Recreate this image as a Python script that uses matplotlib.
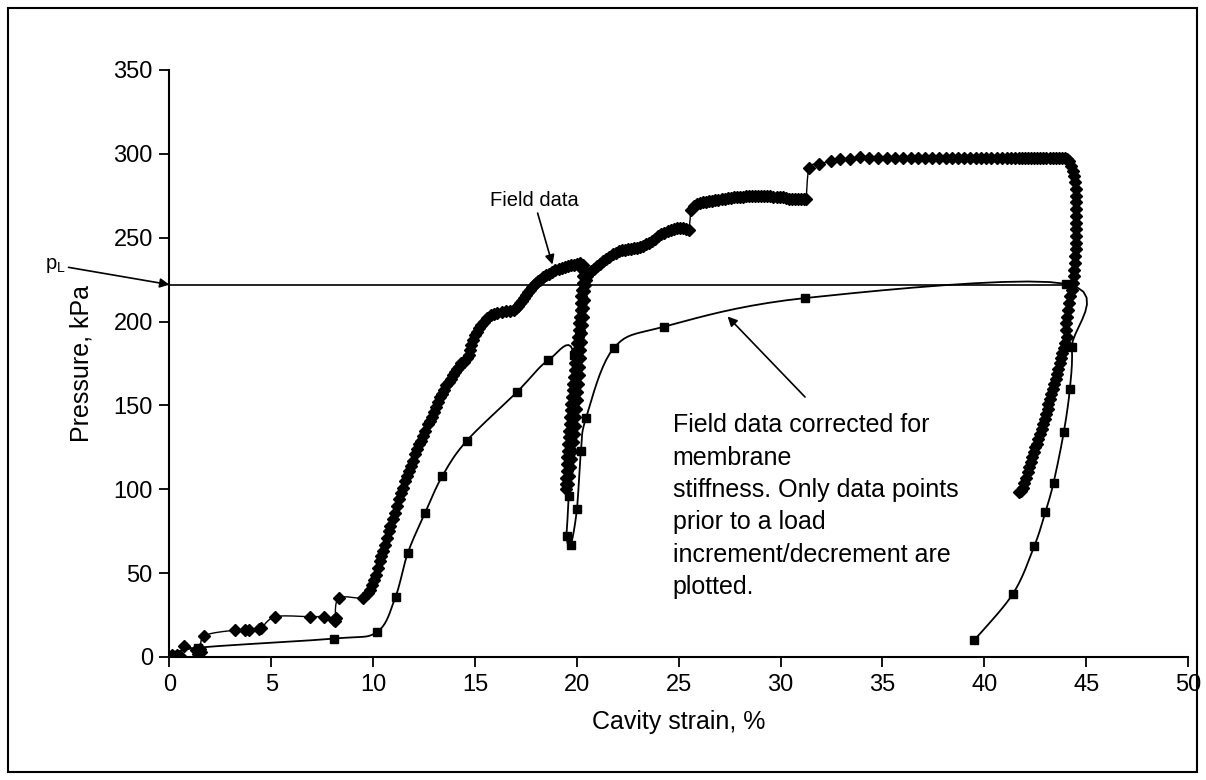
import matplotlib
matplotlib.use("Agg")
import matplotlib.pyplot as plt
from matplotlib.patches import Rectangle
import numpy as np

plt.rcParams['font.family'] = ['Liberation Sans', 'DejaVu Sans']

# field data (diamonds)
start_x = [0.0, 0.15, 0.35, 0.5, 0.72, 1.3, 1.4, 1.5, 1.55, 1.7, 3.2, 3.7, 3.9, 4.4, 4.5, 5.2, 6.9, 7.6,
           8.1, 8.2, 8.15, 8.3, 9.5]
start_y = [0, 1, 1, 0.5, 6.5, 4, 2, 5, 3, 12.5, 16, 16, 16, 16.5, 17, 24, 24, 24,
           22, 23, 21.5, 35, 35]
rise_x = [9.75, 9.85, 9.95, 10.05, 10.15, 10.25, 10.35, 10.4, 10.5, 10.6, 10.7, 10.8, 10.85, 10.95, 11.05,
          11.15, 11.25, 11.35, 11.45, 11.55, 11.65, 11.75, 11.85, 11.95, 12.05, 12.15, 12.25, 12.35, 12.45,
          12.55, 12.7, 12.8, 12.9, 13.0, 13.1, 13.2, 13.3, 13.4, 13.5, 13.6, 13.7, 13.8, 13.9, 14.0, 14.1,
          14.2, 14.3, 14.45, 14.6, 14.7, 14.75, 14.8, 14.9, 15.0, 15.1, 15.2, 15.3, 15.45, 15.6, 15.8, 15.95,
          16.1, 16.3, 16.5, 16.7, 16.9, 17.0, 17.1, 17.2, 17.3, 17.4, 17.5, 17.6, 17.7, 17.8, 17.9, 18.0,
          18.1, 18.2, 18.35, 18.5, 18.65, 18.8, 18.95, 19.1, 19.25, 19.4, 19.55, 19.7, 19.85, 20.0, 20.15, 20.3]
rise_y = [38, 40, 43, 46, 49, 53, 57, 60, 63, 67, 71, 75, 78, 82, 86,
          90, 94, 98, 101, 105, 108, 111, 114, 117, 121, 124, 127, 129, 132,
          135, 139, 141, 143, 146, 149, 152, 155, 157, 159, 162, 164, 166, 168, 170, 172,
          173, 175, 176, 178, 180, 183, 186, 189, 192, 194, 196, 198, 200, 202, 204, 204.5,
          205, 205.5, 206, 206.5, 207, 208, 209.5, 211, 212.5, 214, 216, 217.5, 219, 220.5, 222, 223,
          224, 225, 226.5, 227.5, 228.5, 229.5, 230.5, 231.5, 232, 232.5, 233, 233.5, 234, 234.5, 235, 234]
down_x = [20.32, 20.3, 20.28, 20.25, 20.22, 20.2, 20.18, 20.15, 20.12, 20.1, 20.07, 20.03, 20.0, 19.97,
          19.93, 19.9, 19.87, 19.83, 19.8, 19.77, 19.73, 19.7, 19.67, 19.65, 19.62, 19.6, 19.58, 19.55,
          19.53, 19.5, 19.5, 19.47, 19.45, 19.45]
down_y = [231, 227, 223, 219, 215, 211, 207, 203, 199, 195, 191, 187, 183, 179,
          175, 171, 167, 163, 159, 155, 151, 147, 143, 139, 135, 131, 127, 123,
          119, 115, 111, 107, 103, 100]
up_x = [19.55, 19.62, 19.68, 19.72, 19.77, 19.82, 19.87, 19.9, 19.93, 19.97, 20.0, 20.03, 20.05, 20.08,
        20.1, 20.13, 20.15, 20.18, 20.2, 20.25, 20.28, 20.3, 20.33, 20.36, 20.4, 20.45, 20.5, 20.6, 20.7]
up_y = [103, 108, 113, 118, 123, 128, 133, 138, 143, 148, 153, 158, 163, 168,
        173, 178, 183, 188, 193, 198, 203, 208, 213, 218, 222, 225, 227, 229, 230]
mid_x = [20.85, 21.0, 21.15, 21.3, 21.45, 21.6, 21.75, 21.9, 22.05, 22.2, 22.35, 22.5, 22.65, 22.8, 22.95,
         23.1, 23.25, 23.4, 23.55, 23.7, 23.85, 24.0, 24.15, 24.3, 24.45, 24.6, 24.75, 24.9, 25.05, 25.2,
         25.35, 25.5]
mid_y = [231.5, 233, 234.5, 236, 237, 238.5, 240, 241, 242, 242.5, 242.5, 243, 243.5, 244, 244,
         244.5, 245, 246, 247, 248, 249.5, 251, 252, 253, 254, 254.5, 255, 255.5, 255.5, 255.5,
         255, 254.5]
step_x = [25.6, 25.75, 25.9, 26.05, 26.2, 26.35, 26.5, 26.65, 26.8, 26.95, 27.1, 27.25, 27.4, 27.55, 27.7,
          27.85, 28.0, 28.15, 28.3, 28.45, 28.6, 28.75, 28.9, 29.05, 29.2, 29.35, 29.5, 29.65, 29.8, 29.95,
          30.1, 30.25, 30.4, 30.55, 30.7, 30.85, 31.0, 31.15, 31.25]
step_y = [266.5, 269, 270, 270.5, 271, 271.5, 272, 272, 272.5, 272.5, 273, 273, 273.5, 273.5, 274,
          274, 274.5, 274.5, 275, 275, 275, 275, 275, 275, 275, 275, 275, 274.5, 274.5, 274,
          274, 273.5, 273, 273, 273, 273, 273, 273, 273]
top_x = [31.4, 31.9, 32.45, 32.9, 33.4, 33.9, 34.35, 34.8, 35.2, 35.6, 36.0, 36.4, 36.75, 37.1, 37.45,
         37.8, 38.1, 38.4, 38.7, 39.0, 39.3, 39.6, 39.85, 40.1, 40.35, 40.6, 40.85, 41.1, 41.3, 41.5,
         41.7, 41.85, 42.0, 42.15, 42.3, 42.45, 42.6, 42.75, 42.9, 43.05, 43.2, 43.35, 43.5, 43.65, 43.8, 43.95]
top_y = [291.5, 294, 295.5, 297, 297, 298, 297.5, 297.5, 297.5, 297.5, 297.5, 297.5, 297.5, 297.5, 297.5,
         297.5, 297.5, 297.5, 297.5, 297.5, 297.5, 297.5, 297.5, 297.5, 297.5, 297.5, 297.5, 297.5, 297.5, 297.5,
         297.5, 297.5, 297.5, 297.5, 297.5, 297.5, 297.5, 297.5, 297.5, 297.5, 297.5, 297.5, 297.5, 297.5, 297.5,
         297.5]
drop_x = [44.05, 44.15, 44.25, 44.35, 44.42, 44.47, 44.5, 44.5, 44.5, 44.5, 44.5, 44.5, 44.5, 44.5, 44.5,
          44.48, 44.46, 44.44, 44.42, 44.38, 44.33, 44.28, 44.22, 44.17, 44.12, 44.07, 44.02, 44.02, 44.04,
          43.98, 43.9, 43.82, 43.75, 43.7, 43.63, 43.57, 43.5, 43.42, 43.35, 43.28, 43.2, 43.15, 43.12,
          43.05, 42.97, 42.9, 42.82, 42.72, 42.65, 42.58, 42.5, 42.42, 42.35, 42.27, 42.2, 42.12, 42.05,
          41.97, 41.88, 41.78, 41.7]
drop_y = [297, 295.5, 293, 290, 287, 283, 279, 275, 271, 267, 263, 259, 255, 251, 247,
          243, 239, 235, 231, 227, 223, 219, 215, 211, 207, 203, 199, 195, 191,
          187, 184, 181, 178, 175, 172, 169, 166, 163, 160, 157, 154, 151, 148,
          145, 142, 139, 136, 133, 130, 127, 125, 122, 119, 116, 113, 110, 107,
          104, 101, 99, 98.5]

field_x = start_x + rise_x + down_x + up_x + mid_x + step_x + top_x + drop_x
field_y = start_y + rise_y + down_y + up_y + mid_y + step_y + top_y + drop_y

# corrected for membrane stiffness (squares)
corr_x = [0.2, 1.4, 8.1, 10.2, 11.1, 11.7, 12.55, 13.4, 14.6, 17.06, 18.6, 19.85, 19.6, 19.5, 19.7,
          20.0, 20.2, 20.45, 21.8, 24.3, 31.2, 44.0, 44.3, 44.2, 43.9, 43.4, 43.0, 42.45, 41.4, 39.5]
corr_y = [1, 5.5, 11, 15, 36, 62, 86, 108, 129, 158, 177, 180, 96, 72, 67,
          88, 123, 142.5, 184, 197, 214, 222.5, 185, 160, 134, 104, 86.5, 66, 37.6, 10]

p_limit = 222
p_limit_end = 44.0


def smooth(xs, ys, n=10):
    # excel style smoothed line (catmull-rom bezier through the points)
    p = np.column_stack([xs, ys]).astype(float)
    p = np.vstack([p[0], p, p[-1]])
    t = np.linspace(0, 1, n, endpoint=False)[:, None]
    segs = []
    for i in range(1, len(p) - 2):
        p0, p1, p2, p3 = p[i - 1], p[i], p[i + 1], p[i + 2]
        c1 = p1 + (p2 - p0) / 6
        c2 = p2 - (p3 - p1) / 6
        segs.append((1 - t) ** 3 * p1 + 3 * (1 - t) ** 2 * t * c1 + 3 * (1 - t) * t ** 2 * c2 + t ** 3 * p2)
    segs.append(p[-2][None])
    s = np.vstack(segs)
    return s[:, 0], s[:, 1]


fig = plt.figure(figsize=(12.06, 7.8), dpi=100)
ax = fig.add_axes([0.1405, 0.1577, 0.8446, 0.7526])

fig.patches.append(Rectangle((8 / 1206, 8 / 780), 1189 / 1206, 764 / 780, transform=fig.transFigure,
                             fill=False, lw=1.5, ec='black'))

ax.hlines(p_limit, 0, p_limit_end, color='black', lw=1.2)

sx, sy = smooth(field_x, field_y)
ax.plot(sx, sy, color='black', lw=1.0)
ax.plot(field_x, field_y, linestyle='none', marker='D', markersize=6.2, color='black')

cx, cy = smooth(corr_x, corr_y)
ax.plot(cx, cy, color='black', lw=1.3)
ax.plot(corr_x, corr_y, linestyle='none', marker='s', markersize=5.5, color='black')

ax.set_xlim(0, 50)
ax.set_ylim(0, 350)
ax.set_xticks(range(0, 51, 5))
ax.set_yticks(range(0, 351, 50))
ax.spines['top'].set_visible(False)
ax.spines['right'].set_visible(False)
for s in ['left', 'bottom']:
    ax.spines[s].set_linewidth(1.5)
ax.tick_params(direction='out', length=7, width=1.3, labelsize=17, pad=5)
ax.set_xlabel('Cavity strain, %', fontsize=18, labelpad=10)
ax.set_ylabel('Pressure, kPa', fontsize=18, labelpad=14)

arrow = dict(arrowstyle='-|>', color='black', lw=1.2, mutation_scale=14, shrinkA=0, shrinkB=0)
ax.annotate('Field data', xy=(18.8, 234), xytext=(17.9, 272), fontsize=14.5, ha='center', va='center',
            arrowprops=arrow)
ax.annotate('', xy=(27.4, 203), xytext=(31.2, 155), arrowprops=arrow)
ax.text(24.7, 90, 'Field data corrected for\nmembrane\nstiffness. Only data points\nprior to a load\n'
        'increment/decrement are\nplotted.', fontsize=18, ha='left', va='center', linespacing=1.44)
ax.annotate(r'p$_\mathregular{L}$', xy=(0, p_limit), xytext=(-5.6, 228), fontsize=14.5, ha='center',
            va='bottom', arrowprops=arrow, annotation_clip=False)

fig.savefig('out.png', dpi=100)
